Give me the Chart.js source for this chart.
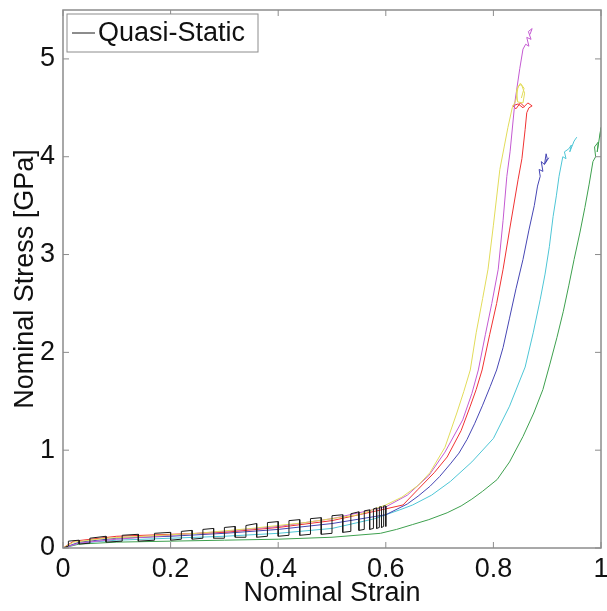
<!DOCTYPE html>
<html>
<head>
<meta charset="utf-8">
<script src="https://cdn.jsdelivr.net/npm/chart.js@4.4.0/dist/chart.umd.min.js"></script>
<style>
  html, body { margin: 0; padding: 0; background: #fff; }
  #wrap { width: 607px; height: 611px; }
</style>
</head>
<body>
<div id="wrap"><canvas id="chart" width="607" height="611"></canvas></div>
<script>
// axis ticks
const xTicks = [0, 0.2, 0.4, 0.6, 0.8, 1];
const yTicks = [0, 1, 2, 3, 4, 5];

// quasi-static run (black ladder in the plateau region)
const blackStrain = [0, 0.01, 0.01, 0.03, 0.03, 0.05, 0.05, 0.08, 0.08, 0.11, 0.11, 0.14, 0.14, 0.17, 0.17,
  0.2, 0.2, 0.22, 0.22, 0.24, 0.24, 0.26, 0.26, 0.28, 0.28, 0.3, 0.3, 0.32, 0.32, 0.34, 0.34, 0.36, 0.36,
  0.38, 0.38, 0.4, 0.4, 0.42, 0.42, 0.44, 0.44, 0.46, 0.46, 0.48, 0.48, 0.5, 0.5, 0.52, 0.52, 0.535, 0.535,
  0.55, 0.55, 0.56, 0.56, 0.57, 0.57, 0.577, 0.577, 0.583, 0.583, 0.588, 0.588, 0.592, 0.592, 0.596, 0.596, 0.6, 0.6];
const blackStress = [0, 0.02, 0.07, 0.08, 0.04, 0.05, 0.1, 0.12, 0.06, 0.07, 0.13, 0.14, 0.07, 0.08, 0.15,
  0.16, 0.08, 0.09, 0.17, 0.18, 0.09, 0.1, 0.19, 0.2, 0.1, 0.1, 0.21, 0.22, 0.11, 0.11, 0.23, 0.25, 0.11,
  0.12, 0.26, 0.27, 0.12, 0.13, 0.28, 0.29, 0.13, 0.14, 0.3, 0.31, 0.14, 0.15, 0.33, 0.34, 0.16, 0.17, 0.35,
  0.37, 0.18, 0.19, 0.38, 0.39, 0.19, 0.2, 0.4, 0.41, 0.2, 0.21, 0.42, 0.42, 0.21, 0.22, 0.43, 0.43, 0.22];

// other runs
const yellowStrain = [0, 0.02, 0.08, 0.15, 0.25, 0.35, 0.45, 0.55, 0.6, 0.63, 0.66, 0.682, 0.71, 0.732, 0.745, 0.757, 0.768, 0.78, 0.79, 0.8, 0.812, 0.82, 0.827, 0.835, 0.842, 0.846, 0.852, 0.858, 0.855, 0.845, 0.843, 0.85, 0.857, 0.852];
const yellowStress = [0, 0.06, 0.1, 0.12, 0.15, 0.2, 0.26, 0.34, 0.44, 0.52, 0.64, 0.77, 1.03, 1.38, 1.6, 1.82, 2.2, 2.55, 2.85, 3.3, 3.87, 4.1, 4.3, 4.5, 4.58, 4.72, 4.74, 4.65, 4.55, 4.56, 4.68, 4.75, 4.7, 4.6];

const magentaStrain = [0, 0.03, 0.1, 0.2, 0.3, 0.4, 0.5, 0.6, 0.64, 0.68, 0.71, 0.743, 0.76, 0.772, 0.785, 0.797, 0.809, 0.818, 0.825, 0.831, 0.84, 0.849, 0.855, 0.86, 0.866, 0.862, 0.87, 0.865, 0.872, 0.868];
const magentaStress = [0, 0.05, 0.09, 0.13, 0.17, 0.22, 0.3, 0.42, 0.54, 0.74, 0.98, 1.31, 1.58, 1.82, 2.18, 2.5, 2.85, 3.35, 3.8, 4.05, 4.56, 4.9, 5.1, 5.15, 5.13, 5.22, 5.2, 5.28, 5.31, 5.25];

const redStrain = [0, 0.02, 0.1, 0.2, 0.3, 0.4, 0.5, 0.6, 0.632, 0.66, 0.69, 0.714, 0.74, 0.757, 0.768, 0.779, 0.793, 0.806, 0.818, 0.83, 0.846, 0.853, 0.859, 0.862, 0.866, 0.872, 0.864, 0.855, 0.846, 0.836, 0.842, 0.85, 0.858];
const redStress = [0, 0.07, 0.12, 0.14, 0.16, 0.21, 0.28, 0.4, 0.44, 0.6, 0.77, 0.93, 1.2, 1.45, 1.62, 1.82, 2.18, 2.5, 2.85, 3.25, 3.77, 3.98, 4.28, 4.45, 4.5, 4.52, 4.55, 4.5, 4.54, 4.52, 4.49, 4.55, 4.51];

const blueStrain = [0, 0.03, 0.1, 0.2, 0.3, 0.4, 0.5, 0.6, 0.64, 0.66, 0.682, 0.7, 0.72, 0.736, 0.751, 0.765, 0.78, 0.794, 0.806, 0.818, 0.83, 0.842, 0.855, 0.866, 0.876, 0.882, 0.887, 0.885, 0.892, 0.889, 0.895, 0.898, 0.9, 0.896, 0.903];
const blueStress = [0, 0.06, 0.1, 0.12, 0.15, 0.19, 0.25, 0.34, 0.45, 0.53, 0.63, 0.73, 0.86, 0.97, 1.11, 1.27, 1.46, 1.65, 1.82, 2.05, 2.35, 2.65, 2.95, 3.25, 3.5, 3.7, 3.8, 3.87, 3.85, 3.95, 3.92, 4.03, 3.98, 3.93, 3.99];

const cyanStrain = [0, 0.03, 0.1, 0.2, 0.3, 0.4, 0.5, 0.58, 0.6, 0.626, 0.65, 0.685, 0.72, 0.76, 0.8, 0.83, 0.859, 0.874, 0.887, 0.896, 0.904, 0.911, 0.917, 0.922, 0.929, 0.935, 0.932, 0.94, 0.945, 0.942, 0.95, 0.955];
const cyanStress = [0, 0.05, 0.08, 0.1, 0.12, 0.15, 0.2, 0.3, 0.34, 0.39, 0.44, 0.54, 0.68, 0.88, 1.12, 1.45, 1.85, 2.2, 2.54, 2.8, 3.08, 3.39, 3.6, 3.8, 4.0, 3.98, 4.05, 4.08, 4.12, 4.05, 4.16, 4.2];

const greenStrain = [0, 0.03, 0.1, 0.2, 0.3, 0.4, 0.5, 0.59, 0.62, 0.65, 0.68, 0.714, 0.74, 0.76, 0.78, 0.807, 0.83, 0.855, 0.875, 0.892, 0.905, 0.918, 0.93, 0.94, 0.95, 0.961, 0.97, 0.978, 0.985, 0.99, 0.988, 0.995, 0.993, 1.0, 0.998];
const greenStress = [0, 0.04, 0.06, 0.07, 0.08, 0.09, 0.11, 0.15, 0.19, 0.24, 0.29, 0.36, 0.43, 0.5, 0.58, 0.7, 0.88, 1.14, 1.38, 1.62, 1.88, 2.15, 2.42, 2.68, 2.95, 3.23, 3.48, 3.72, 3.95, 4.0, 4.1, 4.15, 4.05, 4.3, 4.2];

function pts(xs, ys) {
  return xs.map((x, i) => ({ x: x, y: ys[i] }));
}

function line(label, xs, ys, color) {
  return {
    label: label,
    data: pts(xs, ys),
    borderColor: color,
    borderWidth: 1,
    pointRadius: 0,
    tension: 0,
    fill: false
  };
}

const FONT = '"Liberation Sans", Arial, sans-serif';

// frame, inward ticks and boxed legend, MATLAB style
const matlabBox = {
  id: 'matlabBox',
  afterDraw(chart) {
    const ctx = chart.ctx;
    const a = chart.chartArea;
    const xs = chart.scales.x, ys = chart.scales.y;
    ctx.save();
    ctx.strokeStyle = '#8c8c8c';
    ctx.lineWidth = 1.5;
    ctx.strokeRect(a.left, a.top, a.right - a.left, a.bottom - a.top);
    ctx.lineWidth = 1;
    ctx.beginPath();
    xTicks.forEach(v => {
      const px = xs.getPixelForValue(v);
      ctx.moveTo(px, a.bottom); ctx.lineTo(px, a.bottom - 6);
      ctx.moveTo(px, a.top); ctx.lineTo(px, a.top + 6);
    });
    yTicks.forEach(v => {
      const py = ys.getPixelForValue(v);
      ctx.moveTo(a.left, py); ctx.lineTo(a.left + 6, py);
      ctx.moveTo(a.right, py); ctx.lineTo(a.right - 6, py);
    });
    ctx.stroke();

    // legend box
    const bx = a.left + 4, by = a.top + 4, bw = 191, bh = 38;
    ctx.fillStyle = '#fff';
    ctx.fillRect(bx, by, bw, bh);
    ctx.strokeStyle = '#8c8c8c';
    ctx.strokeRect(bx, by, bw, bh);
    const ds = chart.data.datasets[0];
    ctx.strokeStyle = ds.borderColor;
    ctx.beginPath();
    ctx.moveTo(bx + 5, by + bh / 2);
    ctx.lineTo(bx + 28, by + bh / 2);
    ctx.stroke();
    ctx.fillStyle = '#111';
    ctx.font = '27px ' + FONT;
    ctx.textBaseline = 'middle';
    ctx.fillText(ds.label, bx + 31, by + bh / 2 + 1);
    ctx.restore();
  }
};

const ctx = document.getElementById('chart').getContext('2d');
new Chart(ctx, {
  type: 'line',
  data: {
    datasets: [
      line('Quasi-Static', blackStrain, blackStress, '#1a1a1a'),
      line('Run 2', yellowStrain, yellowStress, '#e2dc5a'),
      line('Run 3', magentaStrain, magentaStress, '#c45ad2'),
      line('Run 4', redStrain, redStress, '#f03232'),
      line('Run 5', blueStrain, blueStress, '#4646b4'),
      line('Run 6', cyanStrain, cyanStress, '#4ec6d6'),
      line('Run 7', greenStrain, greenStress, '#3ea04e')
    ]
  },
  options: {
    responsive: false,
    animation: false,
    layout: { padding: { top: 10, right: 6, left: 0, bottom: 0 } },
    plugins: {
      legend: { display: false },
      tooltip: { enabled: false }
    },
    scales: {
      x: {
        type: 'linear',
        min: 0,
        max: 1,
        afterBuildTicks: s => { s.ticks = xTicks.map(v => ({ value: v })); },
        afterFit: s => { s.height = 63; s.paddingLeft = 0; s.paddingRight = 0; },
        grid: { display: false, drawTicks: false },
        border: { display: false },
        ticks: {
          padding: 5,
          color: '#111',
          font: { family: FONT, size: 27 },
          maxRotation: 0,
          callback: v => String(v)
        },
        title: {
          display: true,
          text: 'Nominal Strain',
          color: '#111',
          font: { family: FONT, size: 27 },
          padding: { top: 0, bottom: 1 }
        }
      },
      y: {
        type: 'linear',
        min: 0,
        max: 5.5,
        afterBuildTicks: s => { s.ticks = yTicks.map(v => ({ value: v })); },
        afterFit: s => { s.width = 63; s.paddingTop = 0; s.paddingBottom = 0; },
        grid: { display: false, drawTicks: false },
        border: { display: false },
        ticks: {
          padding: 8,
          color: '#111',
          font: { family: FONT, size: 27 },
          callback: v => String(v)
        },
        title: {
          display: true,
          text: 'Nominal Stress [GPa]',
          color: '#111',
          font: { family: FONT, size: 27 },
          padding: { top: 9, bottom: 0 }
        }
      }
    }
  },
  plugins: [matlabBox]
});
</script>
</body>
</html>
